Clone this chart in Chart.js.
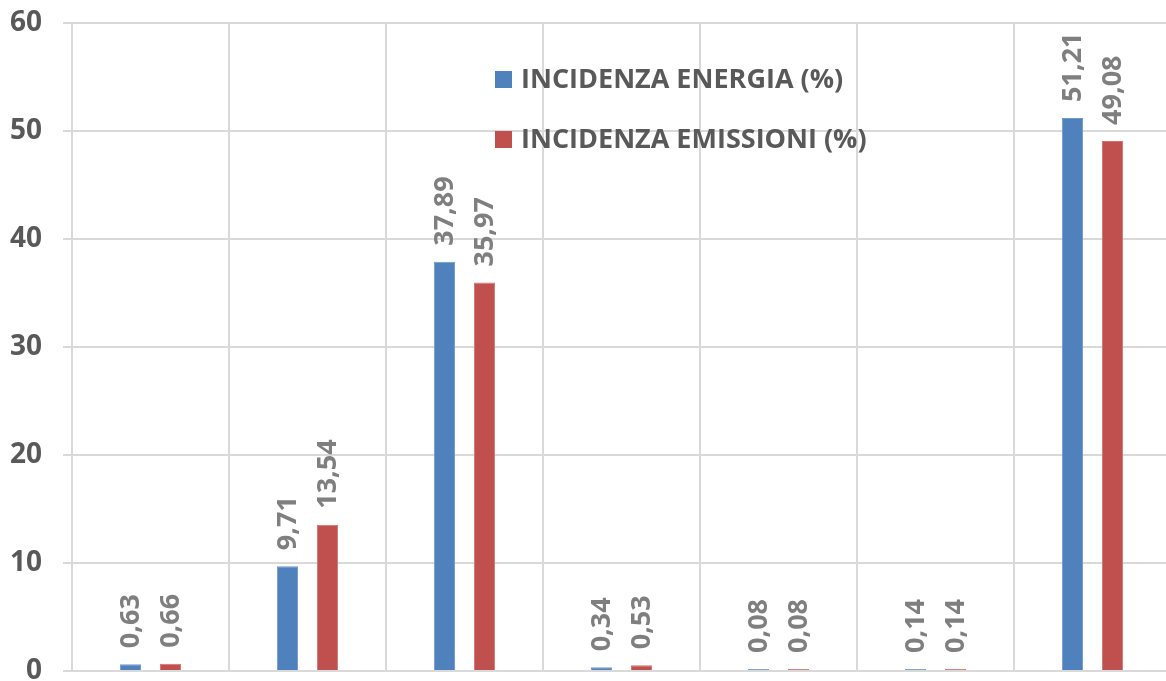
<!DOCTYPE html>
<html>
<head>
<meta charset="utf-8">
<script src="https://cdn.jsdelivr.net/npm/chart.js@4"></script>
<style>
  html, body { margin: 0; padding: 0; background: #fff; overflow: hidden; }
  #wrap { width: 1171px; height: 681px; }
</style>
</head>
<body>
<div id="wrap"><canvas id="chart"></canvas></div>
<script>
// dati del grafico
const categories = ['1', '2', '3', '4', '5', '6', '7'];
const energia = [0.63, 9.71, 37.89, 0.34, 0.08, 0.14, 51.21];
const emissioni = [0.66, 13.54, 35.97, 0.53, 0.08, 0.14, 49.08];
const seriesLabels = ['INCIDENZA ENERGIA (%)', 'INCIDENZA EMISSIONI (%)'];
const yTicks = [0, 10, 20, 30, 40, 50, 60];

const FONT = '"Open Sans", "Liberation Sans", sans-serif';

// etichette dei valori ruotate sopra le barre
const valueLabels = {
  id: 'valueLabels',
  afterDatasetsDraw(chart) {
    const ctx = chart.ctx;
    ctx.save();
    ctx.fillStyle = '#7f7f7f';
    ctx.font = 'bold 27px ' + FONT;
    ctx.textAlign = 'left';
    ctx.textBaseline = 'middle';
    chart.data.datasets.forEach((ds, i) => {
      chart.getDatasetMeta(i).data.forEach((bar, j) => {
        const txt = ds.data[j].toFixed(2).replace('.', ',');
        ctx.save();
        ctx.translate(bar.x + 1, bar.y - 16);
        ctx.rotate(-Math.PI / 2);
        ctx.fillText(txt, 0, 0);
        ctx.restore();
      });
    });
    ctx.restore();
  }
};

// legenda dentro l'area del grafico
const innerLegend = {
  id: 'innerLegend',
  afterDraw(chart) {
    const ctx = chart.ctx;
    ctx.save();
    ctx.font = 'bold 27px ' + FONT;
    ctx.textBaseline = 'middle';
    chart.data.datasets.forEach((ds, i) => {
      const y = 79 + i * 60;
      ctx.fillStyle = ds.backgroundColor;
      ctx.fillRect(495, y - 8, 17, 17);
      ctx.fillStyle = '#595959';
      ctx.fillText(ds.label, 521, y + 1);
    });
    ctx.restore();
  }
};

new Chart(document.getElementById('chart'), {
  type: 'bar',
  data: {
    labels: categories,
    datasets: [
      {
        label: seriesLabels[0],
        data: energia,
        backgroundColor: '#4f81bd',
        borderColor: '#6f99cc',
        borderWidth: 1,
        minBarLength: 2,
        categoryPercentage: 0.51,
        barPercentage: 0.53,
      },
      {
        label: seriesLabels[1],
        data: emissioni,
        backgroundColor: '#c0504d',
        borderColor: '#d07370',
        borderWidth: 1,
        minBarLength: 2,
        categoryPercentage: 0.51,
        barPercentage: 0.53,
      },
    ],
  },
  options: {
    responsive: true,
    maintainAspectRatio: false,
    animation: false,
    layout: { padding: { top: 23, bottom: 10, left: 0, right: 0 } },
    plugins: {
      legend: { display: false },
      tooltip: { enabled: false },
    },
    scales: {
      x: {
        ticks: { display: false },
        grid: { color: '#d9d9d9', lineWidth: 2, drawTicks: false },
        border: { display: false },
        afterFit(scale) {
          scale.height = 0;
          scale.paddingLeft = 0;
          scale.paddingRight = 0;
        },
      },
      y: {
        min: 0,
        max: 60,
        afterBuildTicks(scale) {
          scale.ticks = yTicks.map((v) => ({ value: v }));
        },
        afterFit(scale) {
          scale.width = 72;
          scale.paddingTop = 0;
          scale.paddingBottom = 0;
        },
        ticks: {
          padding: 21,
          color: '#595959',
          font: { family: FONT, size: 28, weight: 'bold' },
        },
        grid: { color: '#d9d9d9', lineWidth: 2, tickLength: 9 },
        border: { display: false },
      },
    },
  },
  plugins: [valueLabels, innerLegend],
});
</script>
</body>
</html>
